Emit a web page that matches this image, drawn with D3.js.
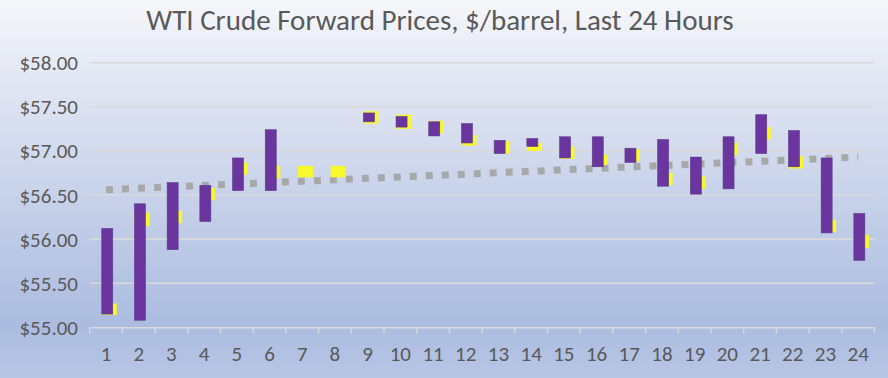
<!DOCTYPE html>
<html>
<head>
<meta charset="utf-8">
<script src="https://cdn.jsdelivr.net/npm/d3@7"></script>
<style>
html,body{margin:0;padding:0;background:#fff;}
svg{display:block;}
</style>
</head>
<body>
<svg id="chart" width="888" height="378"></svg>
<script>
// ---- data ----
const hours = ["1","2","3","4","5","6","7","8","9","10","11","12","13","14","15","16","17","18","19","20","21","22","23","24"];
// purple bar range (top / bottom)
const barTop    = [56.12,56.40,56.64,56.61,56.92,57.24,null,null,57.43,57.39,57.33,57.31,57.12,57.14,57.16,57.16,57.03,57.13,56.93,57.16,57.41,57.23,56.92,56.29];
const barBottom = [55.15,55.08,55.88,56.20,56.55,56.55,null,null,57.33,57.27,57.17,57.09,56.97,57.05,56.92,56.82,56.87,56.60,56.51,56.57,56.97,56.82,56.07,55.76];
// yellow marker range (top / bottom)
const markTop    = [55.27,56.30,56.32,56.58,56.87,56.83,56.83,56.83,57.45,57.41,57.34,57.18,57.11,57.09,57.05,56.96,57.02,56.75,56.71,57.09,57.27,56.94,56.22,56.05];
const markBottom = [55.14,56.15,56.18,56.44,56.73,56.69,56.70,56.70,57.31,57.25,57.20,57.06,56.97,57.00,56.91,56.84,56.88,56.61,56.57,56.95,57.13,56.80,56.08,55.90];
// linear trend endpoints (hour 1, hour 24)
const trendValues = [56.56, 56.93];
const yTicks = [55.00,55.50,56.00,56.50,57.00,57.50,58.00];
const title = "WTI Crude Forward Prices, $/barrel, Last 24 Hours";

// ---- layout ----
const W = 888, H = 378;
const svg = d3.select("#chart");
const defs = svg.append("defs");
const grad = defs.append("linearGradient").attr("id","bg").attr("x1",0).attr("y1",0).attr("x2",0).attr("y2",1);
[[0,"#f6f7fb"],[0.15,"#e7ebf5"],[0.5,"#c9d3ea"],[0.86,"#abbce0"],[1,"#b8c6e5"]].forEach(s=>
  grad.append("stop").attr("offset",s[0]).attr("stop-color",s[1]));
svg.append("rect").attr("width",W).attr("height",H).attr("fill","url(#bg)");

const x = d3.scaleBand().domain(hours).range([89.7, 874.5]).paddingInner(0).paddingOuter(0);
const y = d3.scaleLinear().domain([55, 58]).range([327.3, 62.7]);
const cx = h => x(h) + x.bandwidth()/2;

const font = "Carlito, Calibri, 'Liberation Sans', Arial, sans-serif";

// title
svg.append("text").attr("x",440).attr("y",30).attr("text-anchor","middle")
  .attr("font-family",font).attr("font-size",29).attr("fill","#595959").text(title);

// gridlines
svg.append("g").selectAll("line").data(yTicks.slice(1)).join("line")
  .attr("x1",89.7).attr("x2",874.5).attr("y1",d=>y(d)).attr("y2",d=>y(d))
  .attr("stroke","#d9d9d9").attr("stroke-width",1.6);

// y axis labels
svg.append("g").selectAll("text").data(yTicks).join("text")
  .attr("x",78).attr("y",d=>y(d)+7.5).attr("text-anchor","end")
  .attr("font-family",font).attr("font-size",21).attr("fill","#595959")
  .text(d=>"$"+d.toFixed(2));

// x axis
const xAxis = d3.axisBottom(x).tickSize(0).tickPadding(0);
const gx = svg.append("g").attr("transform","translate(0,"+y(55)+")").call(xAxis);
gx.select(".domain").attr("stroke","#d9d9d9").attr("stroke-width",1.6);
gx.selectAll(".tick text").attr("font-family",font).attr("font-size",21).attr("fill","#595959")
  .attr("dy",0).attr("y",33.5);
// boundary tick marks
const bounds = hours.map(h=>x(h)).concat([x(hours[hours.length-1])+x.bandwidth()]);
gx.append("g").selectAll("line").data(bounds).join("line")
  .attr("x1",d=>d).attr("x2",d=>d).attr("y1",0).attr("y2",6)
  .attr("stroke","#d9d9d9").attr("stroke-width",1.4);

// trend line (dotted)
svg.append("line")
  .attr("x1",cx(hours[0])).attr("y1",y(trendValues[0]))
  .attr("x2",cx(hours[hours.length-1])).attr("y2",y(trendValues[1]))
  .attr("stroke","#a6a6a6").attr("stroke-width",7).attr("stroke-dasharray","7 9")
  .attr("opacity",0.95);

// yellow markers
const data = hours.map((h,i)=>({h, bt:barTop[i], bb:barBottom[i], mt:markTop[i], mb:markBottom[i]}));
svg.append("g").selectAll("rect").data(data).join("rect")
  .attr("x",d=>cx(d.h)-4.3).attr("width",15)
  .attr("y",d=>y(d.mt)).attr("height",d=>y(d.mb)-y(d.mt))
  .attr("fill","#f8f82a");

// purple bars
svg.append("g").selectAll("rect").data(data.filter(d=>d.bt!=null)).join("rect")
  .attr("x",d=>cx(d.h)-4.3).attr("width",11)
  .attr("y",d=>y(d.bt)).attr("height",d=>y(d.bb)-y(d.bt))
  .attr("fill","#6a359f").attr("stroke","#5a3a8a").attr("stroke-width",0.6);
</script>
</body>
</html>
